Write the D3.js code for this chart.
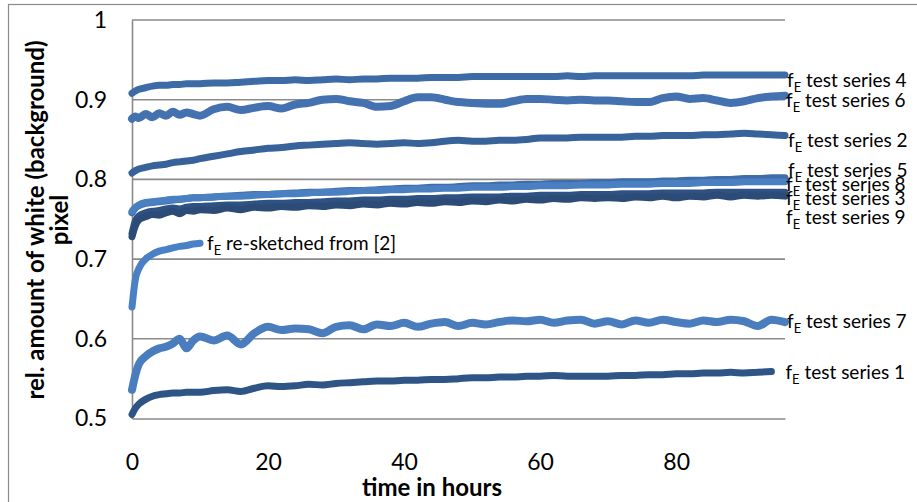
<!DOCTYPE html>
<html>
<head>
<meta charset="utf-8">
<script src="https://cdn.jsdelivr.net/npm/d3@7"></script>
<style>
  body { margin: 0; background: #fff; }
  text { font-family: Lato, "Open Sans", sans-serif; fill: #000; }
</style>
</head>
<body>
<script>
// sample times (hours)
const hours = [0, 0.5, 1, 2, 3, 4, 5, 6, 7, 8, 9, 10,
  12, 14, 16, 18, 20, 22, 24, 26, 28, 30, 32, 34, 36, 38, 40, 42, 44, 46, 48, 50,
  52, 54, 56, 58, 60, 62, 64, 66, 68, 70, 72, 74, 76, 78, 80, 82, 84, 86, 88, 90,
  92, 94, 96];

const series1 = [0.505, 0.513, 0.518, 0.524, 0.528, 0.530, 0.531, 0.532, 0.532, 0.533, 0.533, 0.533,
  0.535, 0.536, 0.534, 0.538, 0.541, 0.540, 0.541, 0.543, 0.542, 0.544, 0.545, 0.546, 0.547, 0.547, 0.548, 0.548, 0.549, 0.549, 0.550, 0.551,
  0.551, 0.552, 0.552, 0.553, 0.553, 0.554, 0.553, 0.553, 0.553, 0.553, 0.554, 0.554, 0.555, 0.555, 0.556, 0.556, 0.557, 0.557, 0.558, 0.557,
  0.558, 0.559, null];
const series2 = [0.808, 0.811, 0.813, 0.815, 0.817, 0.818, 0.819, 0.821, 0.822, 0.823, 0.824, 0.826,
  0.829, 0.832, 0.835, 0.837, 0.839, 0.840, 0.842, 0.843, 0.844, 0.845, 0.846, 0.845, 0.844, 0.845, 0.846, 0.845, 0.846, 0.848, 0.849, 0.848,
  0.848, 0.849, 0.849, 0.850, 0.852, 0.852, 0.852, 0.853, 0.853, 0.853, 0.853, 0.854, 0.854, 0.855, 0.855, 0.855, 0.856, 0.856, 0.857, 0.858,
  0.857, 0.856, 0.855];
const series3 = [0.732, 0.748, 0.754, 0.758, 0.760, 0.761, 0.763, 0.764, 0.763, 0.765, 0.766, 0.766,
  0.767, 0.768, 0.768, 0.769, 0.770, 0.770, 0.771, 0.771, 0.772, 0.773, 0.773, 0.774, 0.774, 0.775, 0.775, 0.776, 0.776, 0.777, 0.777, 0.778,
  0.778, 0.778, 0.779, 0.779, 0.780, 0.780, 0.780, 0.781, 0.781, 0.781, 0.782, 0.782, 0.782, 0.783, 0.783, 0.783, 0.783, 0.784, 0.784, 0.784,
  0.784, 0.784, 0.784];
const series4 = [0.908, 0.911, 0.913, 0.915, 0.917, 0.918, 0.918, 0.919, 0.919, 0.920, 0.920, 0.920,
  0.921, 0.921, 0.922, 0.923, 0.924, 0.924, 0.925, 0.924, 0.925, 0.926, 0.925, 0.926, 0.926, 0.927, 0.927, 0.927, 0.928, 0.928, 0.928, 0.929,
  0.929, 0.929, 0.929, 0.929, 0.929, 0.929, 0.930, 0.929, 0.930, 0.930, 0.930, 0.930, 0.930, 0.930, 0.930, 0.930, 0.931, 0.931, 0.931, 0.931,
  0.931, 0.931, 0.931];
const series5 = [0.758, 0.764, 0.767, 0.770, 0.771, 0.772, 0.773, 0.774, 0.775, 0.776, 0.777, 0.777,
  0.778, 0.779, 0.780, 0.781, 0.781, 0.782, 0.783, 0.784, 0.784, 0.785, 0.786, 0.786, 0.787, 0.788, 0.789, 0.789, 0.790, 0.790, 0.791, 0.792,
  0.792, 0.793, 0.793, 0.794, 0.794, 0.795, 0.795, 0.795, 0.796, 0.796, 0.797, 0.797, 0.797, 0.798, 0.798, 0.799, 0.799, 0.800, 0.800, 0.801,
  0.801, 0.802, 0.802];
const series6 = [0.876, 0.879, 0.877, 0.882, 0.878, 0.883, 0.880, 0.885, 0.881, 0.884, 0.882, 0.880,
  0.888, 0.891, 0.887, 0.890, 0.892, 0.889, 0.894, 0.896, 0.900, 0.901, 0.898, 0.896, 0.891, 0.892, 0.898, 0.903, 0.903, 0.900, 0.897, 0.896,
  0.895, 0.895, 0.898, 0.901, 0.901, 0.900, 0.899, 0.900, 0.899, 0.899, 0.898, 0.897, 0.897, 0.902, 0.904, 0.901, 0.902, 0.899, 0.896, 0.898,
  0.902, 0.904, 0.905];
const series7 = [0.536, 0.555, 0.568, 0.578, 0.584, 0.588, 0.590, 0.594, 0.600, 0.588, 0.598, 0.603,
  0.598, 0.604, 0.593, 0.607, 0.615, 0.611, 0.613, 0.612, 0.607, 0.615, 0.617, 0.612, 0.618, 0.616, 0.620, 0.615, 0.619, 0.621, 0.616, 0.620,
  0.618, 0.621, 0.623, 0.622, 0.624, 0.620, 0.623, 0.624, 0.619, 0.622, 0.618, 0.623, 0.620, 0.624, 0.621, 0.619, 0.623, 0.621, 0.624, 0.622,
  0.616, 0.624, 0.621];
const series8 = [0.760, 0.765, 0.768, 0.771, 0.772, 0.773, 0.774, 0.775, 0.775, 0.776, 0.777, 0.777,
  0.778, 0.779, 0.779, 0.780, 0.781, 0.782, 0.782, 0.783, 0.784, 0.784, 0.785, 0.786, 0.786, 0.787, 0.787, 0.788, 0.788, 0.789, 0.789, 0.790,
  0.790, 0.790, 0.791, 0.791, 0.792, 0.792, 0.792, 0.793, 0.793, 0.793, 0.794, 0.794, 0.794, 0.795, 0.795, 0.795, 0.796, 0.796, 0.796, 0.797,
  0.797, 0.797, 0.797];
const series9 = [0.728, 0.742, 0.749, 0.753, 0.756, 0.755, 0.758, 0.760, 0.757, 0.761, 0.760, 0.762,
  0.761, 0.764, 0.762, 0.765, 0.764, 0.766, 0.765, 0.767, 0.766, 0.768, 0.767, 0.769, 0.768, 0.770, 0.769, 0.771, 0.770, 0.772, 0.771, 0.773,
  0.772, 0.774, 0.773, 0.775, 0.774, 0.776, 0.775, 0.777, 0.776, 0.777, 0.776, 0.778, 0.777, 0.779, 0.777, 0.779, 0.778, 0.780, 0.778, 0.780,
  0.779, 0.780, 0.779];
const resketched = [0.640, 0.675, 0.688, 0.700, 0.706, 0.710, 0.712, 0.714, 0.716, 0.717, 0.719, 0.720,
  null, null, null, null, null, null, null, null, null, null, null, null, null, null, null, null, null, null, null, null,
  null, null, null, null, null, null, null, null, null, null, null, null, null, null, null, null, null, null, null, null,
  null, null, null];

const seriesNames = ["test series 1", "test series 2", "test series 3", "test series 4",
  "test series 5", "test series 6", "test series 7", "test series 8", "test series 9",
  "re-sketched from [2]"];
const seriesValues = [series1, series2, series3, series4, series5, series6,
  series7, series8, series9, resketched];

const xTicks = [0, 20, 40, 60, 80];
const yTicks = [0.5, 0.6, 0.7, 0.8, 0.9, 1];

// drawing styles
const colors = ["#2f5587", "#38629a", "#2e5283", "#3d6ba6", "#3e6da9", "#4472b0",
  "#4a7dbe", "#4a7fc2", "#2c4b77", "#4a80c5"];
const labelDx = [14, 3, 1, 2, 3, 1, 2, 1, 1, 7];
const labelDy = [8, 11, 13, 12, -1, 11, 6, 9, 28, 7];

const width = 917;
const height = 502;
const plotLeft = 132, plotRight = 785, plotTop = 20, plotBottom = 418.5;
const grey = "#8a8a8a";

const svg = d3
  .select("body")
  .append("svg")
  .attr("width", width)
  .attr("height", height);

// outer chart border (cut off at the right and bottom)
svg
  .append("rect")
  .attr("x", 8.5)
  .attr("y", 4.5)
  .attr("width", width + 20)
  .attr("height", height + 20)
  .attr("fill", "none")
  .attr("stroke", grey)
  .attr("stroke-width", 1.2);

const xScale = d3.scaleLinear().domain([0, 96]).range([plotLeft, plotRight]);
const yScale = d3.scaleLinear().domain([0.5, 1]).range([plotBottom, plotTop]);

// gridlines
svg
  .append("g")
  .selectAll("line")
  .data(yTicks.slice(1))
  .enter()
  .append("line")
  .attr("x1", plotLeft)
  .attr("x2", plotRight)
  .attr("y1", (d) => yScale(d))
  .attr("y2", (d) => yScale(d))
  .attr("stroke", grey)
  .attr("stroke-width", 1.6);

const yAxis = d3
  .axisLeft(yScale)
  .tickValues(yTicks)
  .tickFormat((d) => (d === 1 ? "1" : d3.format(".1f")(d)))
  .tickSize(0)
  .tickPadding(25);

svg
  .append("g")
  .attr("transform", `translate(${plotLeft}, 0)`)
  .call(yAxis)
  .call((g) => g.select(".domain").attr("stroke", grey).attr("stroke-width", 1.6))
  .selectAll("text")
  .style("font-size", "23px");

const xAxis = d3.axisBottom(xScale).tickValues(xTicks).tickSize(0).tickPadding(35);

svg
  .append("g")
  .attr("transform", `translate(0, ${plotBottom})`)
  .call(xAxis)
  .call((g) => g.select(".domain").attr("stroke", grey).attr("stroke-width", 1.6))
  .selectAll("text")
  .style("font-size", "23px");

// series lines
const line = d3
  .line()
  .defined((d) => d[1] !== null)
  .x((d) => xScale(d[0]))
  .y((d) => yScale(d[1]))
  .curve(d3.curveMonotoneX);

const order = [0, 1, 2, 3, 4, 5, 6, 7, 8, 9];

svg
  .append("g")
  .selectAll("path")
  .data(order)
  .enter()
  .append("path")
  .attr("d", (i) => line(hours.map((h, k) => [h, seriesValues[i][k]])))
  .attr("fill", "none")
  .attr("stroke", (i) => colors[i])
  .attr("stroke-width", (i) => (i === 5 || i === 6 ? 8 : 7))
  .attr("stroke-linecap", "round")
  .attr("stroke-linejoin", "round");

// data labels at the end of each line
const lastIndex = (vals) => {
  let k = vals.length - 1;
  while (vals[k] === null) k--;
  return k;
};

const labels = svg
  .append("g")
  .selectAll("text")
  .data(order)
  .enter()
  .append("text")
  .attr("x", (i) => xScale(hours[lastIndex(seriesValues[i])]) + labelDx[i])
  .attr("y", (i) => yScale(seriesValues[i][lastIndex(seriesValues[i])]) + labelDy[i])
  .style("font-size", "19px");

labels.append("tspan").text("f");
labels.append("tspan").attr("dy", 5).style("font-size", "13px").text("E");
labels.append("tspan").attr("dy", -5).text((i) => " " + seriesNames[i]);

// axis titles
svg
  .append("text")
  .attr("x", 432)
  .attr("y", 496)
  .attr("text-anchor", "middle")
  .style("font-size", "24px")
  .style("font-weight", "bold")
  .text("time in hours");

const yTitle = svg
  .append("text")
  .attr("transform", "translate(44, 220) rotate(-90)")
  .attr("text-anchor", "middle")
  .style("font-size", "24px")
  .style("font-weight", "bold");

yTitle.append("tspan").attr("x", 0).attr("y", 0).text("rel. amount of white (background)");
yTitle.append("tspan").attr("x", 0).attr("y", 24).text("pixel");
</script>
</body>
</html>
